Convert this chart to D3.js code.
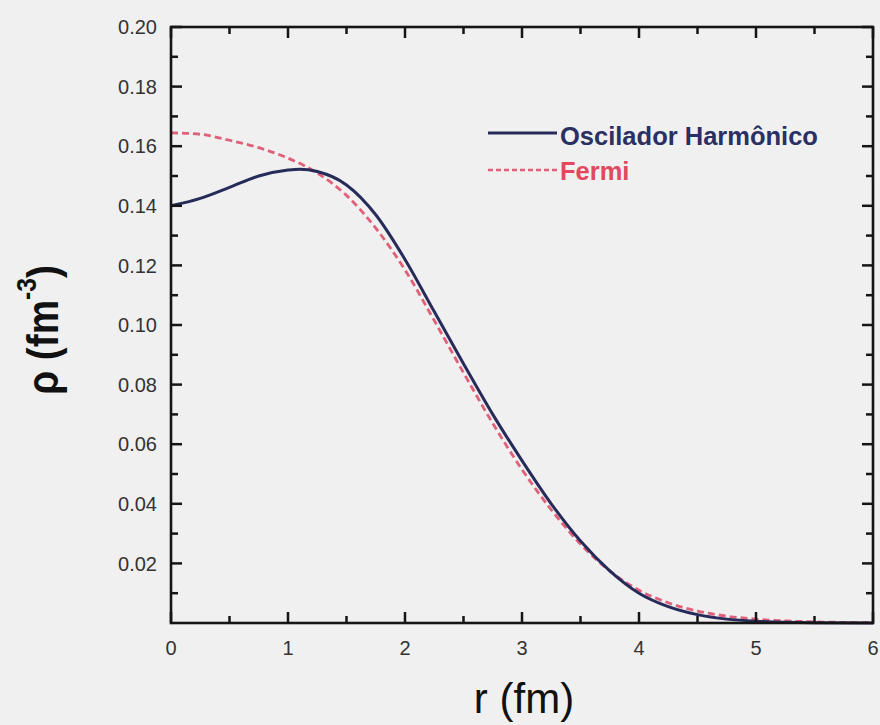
<!DOCTYPE html>
<html>
<head>
<meta charset="utf-8">
<script src="https://cdn.jsdelivr.net/npm/d3@7"></script>
<style>
  html, body { margin: 0; padding: 0; background: #f0f0f0; }
  svg { display: block; }
  text { font-family: Arial, "Liberation Sans", sans-serif; }
</style>
</head>
<body>
<svg id="chart" width="880" height="725"></svg>
<script>
// Radial density profiles (r in fm, rho in fm^-3)
const rOsc   = [0, 0.25, 0.5, 0.75, 1.0, 1.1, 1.25, 1.5, 1.75, 2.0, 2.25, 2.5, 2.75, 3.0, 3.25, 3.5, 3.75, 4.0, 4.25, 4.5, 4.75, 5.0, 5.5, 6.0];
const rhoOsc = [0.1400, 0.1425, 0.1462, 0.1500, 0.1520, 0.1523, 0.1515, 0.1470, 0.1370, 0.1220, 0.1045, 0.0870, 0.0700, 0.0545, 0.0400, 0.0275, 0.0175, 0.0100, 0.0055, 0.0028, 0.0013, 0.0006, 0.0001, 0.0000];

const rFermi   = [0, 0.25, 0.5, 0.75, 1.0, 1.25, 1.5, 1.75, 2.0, 2.25, 2.5, 2.75, 3.0, 3.25, 3.5, 3.75, 4.0, 4.25, 4.5, 4.75, 5.0, 5.25, 5.5, 6.0];
const rhoFermi = [0.1645, 0.1640, 0.1620, 0.1595, 0.1560, 0.1510, 0.1435, 0.1325, 0.1185, 0.1015, 0.0840, 0.0670, 0.0515, 0.0380, 0.0265, 0.0175, 0.0110, 0.0068, 0.0040, 0.0023, 0.0013, 0.0007, 0.0004, 0.0001];

const xTickLabels = ["0", "1", "2", "3", "4", "5", "6"];
const yTickLabels = ["0.02", "0.04", "0.06", "0.08", "0.10", "0.12", "0.14", "0.16", "0.18", "0.20"];

const seriesNames = ["Oscilador Harmônico", "Fermi"];
const seriesColors = ["#272b5a", "#e0607a"];
const legendTextColors = ["#2b2f63", "#e2485f"];

const svg = d3.select("#chart");
const plotLeft = 171, plotRight = 873, plotTop = 27, plotBottom = 623;

const x = d3.scaleLinear().domain([0, 6]).range([plotLeft, plotRight]);
const y = d3.scaleLinear().domain([0, 0.20]).range([plotBottom, plotTop]);

// Tick positions: majors at labels, minors halfway
const xMajor = xTickLabels.map(Number);
const xMinor = d3.range(0.5, 6, 1);
const yMajor = yTickLabels.map(Number);
const yMinor = d3.range(0.01, 0.20, 0.02);

const axisColor = "#151515";
const g = svg.append("g");

// Curves
const line = d3.line().x(d => x(d[0])).y(d => y(d[1])).curve(d3.curveMonotoneX);
const fermiPts = rFermi.map((r, i) => [r, rhoFermi[i]]);
const oscPts = rOsc.map((r, i) => [r, rhoOsc[i]]);

g.append("path").datum(fermiPts)
  .attr("d", line).attr("fill", "none")
  .attr("stroke", seriesColors[1]).attr("stroke-width", 2.8)
  .attr("stroke-dasharray", "7,4");

g.append("path").datum(oscPts)
  .attr("d", line).attr("fill", "none")
  .attr("stroke", seriesColors[0]).attr("stroke-width", 3);

// Frame
g.append("rect")
  .attr("x", plotLeft).attr("y", plotTop)
  .attr("width", plotRight - plotLeft).attr("height", plotBottom - plotTop)
  .attr("fill", "none").attr("stroke", axisColor).attr("stroke-width", 2.6);

const majorLen = 11, minorLen = 7;

// Bottom and top ticks (inward)
function hTicks(vals, len) {
  vals.forEach(v => {
    g.append("line").attr("x1", x(v)).attr("x2", x(v))
      .attr("y1", plotBottom).attr("y2", plotBottom - len)
      .attr("stroke", axisColor).attr("stroke-width", 2.5);
    g.append("line").attr("x1", x(v)).attr("x2", x(v))
      .attr("y1", plotTop).attr("y2", plotTop + len)
      .attr("stroke", axisColor).attr("stroke-width", 2.5);
  });
}
hTicks(xMajor, majorLen);
hTicks(xMinor, minorLen);

// Left and right ticks (inward)
function vTicks(vals, len) {
  vals.forEach(v => {
    g.append("line").attr("y1", y(v)).attr("y2", y(v))
      .attr("x1", plotLeft).attr("x2", plotLeft + len)
      .attr("stroke", axisColor).attr("stroke-width", 2.5);
    g.append("line").attr("y1", y(v)).attr("y2", y(v))
      .attr("x1", plotRight).attr("x2", plotRight - len)
      .attr("stroke", axisColor).attr("stroke-width", 2.5);
  });
}
vTicks(yMajor, majorLen);
vTicks(yMinor, minorLen);

// Tick labels
g.selectAll(".xl").data(xTickLabels).enter().append("text")
  .attr("x", d => x(+d)).attr("y", 655)
  .attr("text-anchor", "middle")
  .attr("font-size", 20).attr("fill", "#333")
  .text(d => d);

g.selectAll(".yl").data(yTickLabels).enter().append("text")
  .attr("x", 157).attr("y", d => y(+d))
  .attr("dy", "0.36em")
  .attr("text-anchor", "end")
  .attr("font-size", 20).attr("fill", "#333")
  .text(d => d);

// Axis titles
svg.append("text")
  .attr("x", 524).attr("y", 713)
  .attr("text-anchor", "middle")
  .attr("font-size", 42).attr("fill", "#111")
  .text("r (fm)");

const yTitle = svg.append("text")
  .attr("transform", "translate(58,330) rotate(-90) scale(0.88,1)")
  .attr("text-anchor", "middle")
  .attr("font-size", 44).attr("font-weight", "bold").attr("fill", "#111");
yTitle.append("tspan").text("ρ (fm");
yTitle.append("tspan").attr("dy", -22).attr("font-size", 28).text("-3");
yTitle.append("tspan").attr("dy", 22).text(")");

// Legend
const legend = svg.append("g");
legend.append("line")
  .attr("x1", 488).attr("x2", 557).attr("y1", 133).attr("y2", 133)
  .attr("stroke", seriesColors[0]).attr("stroke-width", 3);
legend.append("text")
  .attr("x", 560).attr("y", 145)
  .attr("font-size", 25.5).attr("font-weight", "bold")
  .attr("fill", legendTextColors[0])
  .text(seriesNames[0]);

legend.append("line")
  .attr("x1", 488).attr("x2", 557).attr("y1", 170).attr("y2", 170)
  .attr("stroke", seriesColors[1]).attr("stroke-width", 2.4)
  .attr("stroke-dasharray", "5,3");
legend.append("text")
  .attr("x", 560).attr("y", 180)
  .attr("font-size", 25.5).attr("font-weight", "bold")
  .attr("fill", legendTextColors[1])
  .text(seriesNames[1]);
</script>
</body>
</html>
